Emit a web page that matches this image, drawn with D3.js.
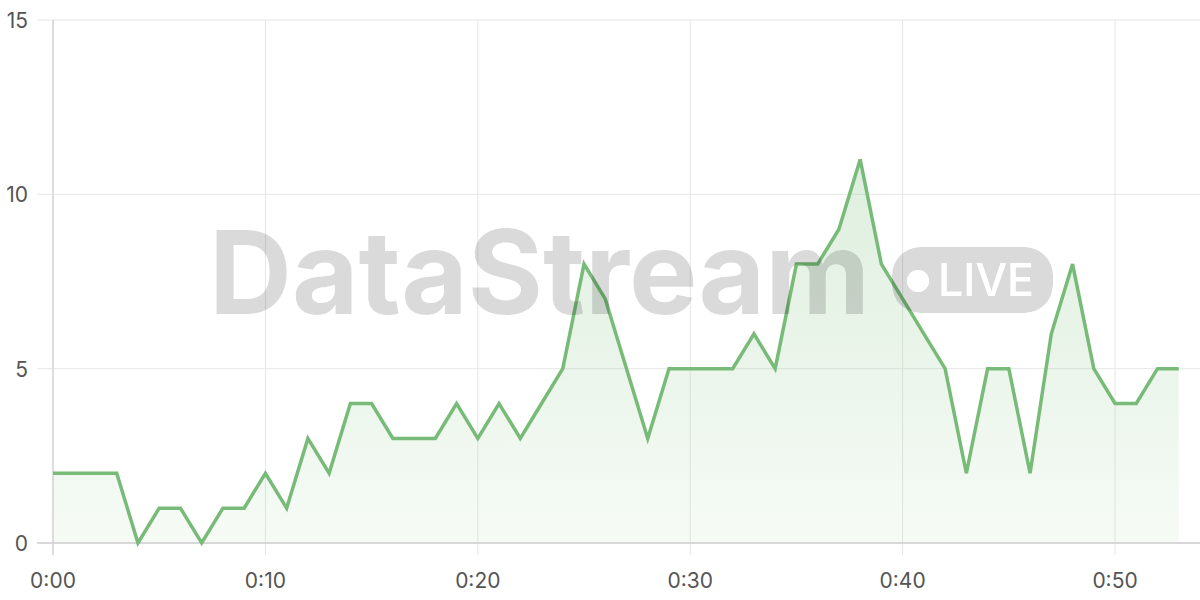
<!DOCTYPE html>
<html><head><meta charset="utf-8">
<script src="https://cdn.jsdelivr.net/npm/d3@7"></script>
<style>
html,body{margin:0;padding:0;background:#fff;}
svg{display:block;}
text{font-family:"Inter","Helvetica Neue",Arial,sans-serif;}
</style></head>
<body>
<svg id="chart" width="1200" height="600"></svg>
<script>
const minutes = [0,1,2,3,4,5,6,7,8,9,10,11,12,13,14,15,16,17,18,19,20,21,22,23,24,25,26,27,28,29,30,31,32,33,34,35,36,37,38,39,40,41,42,43,44,45,46,47,48,49,50,51,52,53];
const values  = [2,2,2,2,0,1,1,0,1,1,2,1,3,2,4,4,3,3,3,4,3,4,3,4,5,8,7,5,3,5,5,5,5,6,5,8,8,9,11,8,7,6,5,2,5,5,2,6,8,5,4,4,5,5];
const xTicks = [0,10,20,30,40,50];
const yTicks = [0,5,10,15];
const watermarkText = "DataStream";
const badgeText = "LIVE";

const svg = d3.select("#chart");
const x = d3.scaleLinear().domain([0,54]).range([53,1200]);
const y = d3.scaleLinear().domain([0,15]).range([543,20]);
const fmt = m => Math.floor(m/60) + ":" + String(m%60).padStart(2,"0");

const defs = svg.append("defs");
const grad = defs.append("linearGradient").attr("id","fillGrad")
  .attr("gradientUnits","userSpaceOnUse")
  .attr("x1",0).attr("y1",y(11)).attr("x2",0).attr("y2",y(0));
grad.append("stop").attr("offset","0%").attr("stop-color","#7cbf7c").attr("stop-opacity",0.25);
grad.append("stop").attr("offset","100%").attr("stop-color","#7cbf7c").attr("stop-opacity",0.07);

// grid
const gx = svg.append("g");
gx.selectAll("line.v").data(xTicks).join("line")
  .attr("x1",d=>x(d)).attr("x2",d=>x(d)).attr("y1",y(15)).attr("y2",555)
  .attr("stroke","#e6e6e6").attr("stroke-width",1);
gx.selectAll("line.h").data(yTicks).join("line")
  .attr("x1",37).attr("x2",1200).attr("y1",d=>y(d)).attr("y2",d=>y(d))
  .attr("stroke","#e6e6e6").attr("stroke-width",1);

// area + line
const data = minutes.map((m,i)=>({m, v: values[i]}));
svg.append("path").datum(data)
  .attr("d", d3.area().x(d=>x(d.m)).y0(y(0)).y1(d=>y(d.v)))
  .attr("fill","url(#fillGrad)");

// axes lines
svg.append("line").attr("x1",x(0)).attr("x2",x(0)).attr("y1",y(15)).attr("y2",555)
  .attr("stroke","#d6d6d6").attr("stroke-width",1.5);
svg.append("line").attr("x1",37).attr("x2",1200).attr("y1",y(0)).attr("y2",y(0))
  .attr("stroke","#cfcfcf").attr("stroke-width",1.5);

svg.append("path").datum(data)
  .attr("d", d3.line().x(d=>x(d.m)).y(d=>y(d.v)))
  .attr("fill","none").attr("stroke","#78bb78").attr("stroke-width",3.5)
  .attr("stroke-linejoin","miter");

// tick labels
svg.append("g").selectAll("text").data(xTicks).join("text")
  .attr("x",d=>x(d)).attr("y",588).attr("text-anchor","middle")
  .attr("font-size",21).attr("fill","#555").text(fmt);
svg.append("g").selectAll("text").data(yTicks).join("text")
  .attr("x",28).attr("y",d=>y(d)+8).attr("text-anchor","end")
  .attr("font-size",21).attr("fill","#555").text(d=>d);

// watermark
const wm = svg.append("g").attr("opacity",0.14);
wm.append("text").attr("x",209).attr("y",314)
  .attr("font-family","'Open Sans',Inter,sans-serif").attr("font-weight",700)
  .attr("font-size",116).attr("fill","#000")
  .attr("textLength",661).attr("lengthAdjust","spacingAndGlyphs")
  .text(watermarkText);
const pill = svg.append("g");
const mask = defs.append("mask").attr("id","pillMask");
mask.append("rect").attr("x",892).attr("y",247).attr("width",161).attr("height",66).attr("rx",28).attr("fill","#fff");
mask.append("circle").attr("cx",918).attr("cy",281).attr("r",11).attr("fill","#000");
mask.append("text").attr("x",938).attr("y",296).attr("font-size",45).attr("font-weight",500)
  .attr("fill","#000").attr("textLength",96).attr("lengthAdjust","spacingAndGlyphs")
  .attr("font-family","Inter,sans-serif").text(badgeText);
pill.append("rect").attr("x",892).attr("y",247).attr("width",161).attr("height",66).attr("rx",28)
  .attr("fill","#000").attr("opacity",0.14).attr("mask","url(#pillMask)");
pill.append("circle").attr("cx",918).attr("cy",281).attr("r",11).attr("fill","#fff").attr("opacity",0.9);
pill.append("text").attr("x",938).attr("y",296).attr("font-size",45).attr("font-weight",500)
  .attr("fill","#fff").attr("opacity",0.9).attr("textLength",96).attr("lengthAdjust","spacingAndGlyphs")
  .attr("font-family","Inter,sans-serif").text(badgeText);
</script>
</body></html>
